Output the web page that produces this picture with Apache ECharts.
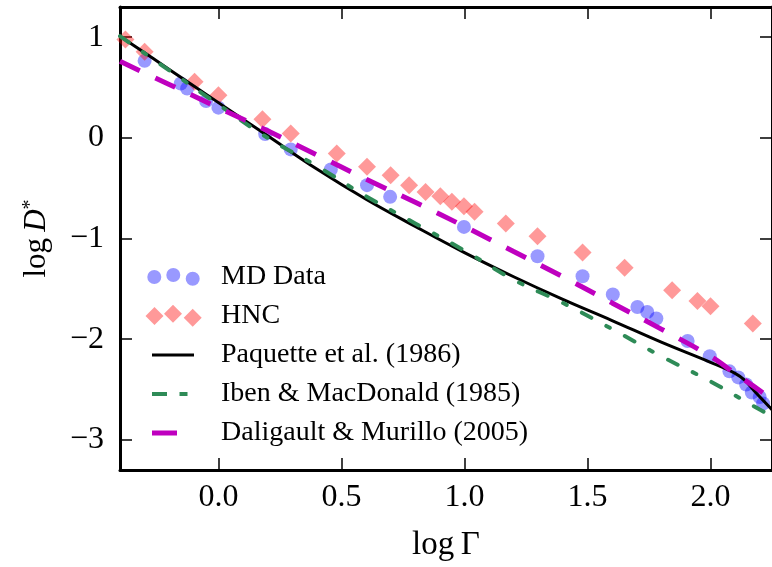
<!DOCTYPE html>
<html>
<head>
<meta charset="utf-8">
<script src="https://cdn.jsdelivr.net/npm/echarts@6/dist/echarts.min.js"></script>
<style>html,body{margin:0;padding:0;background:#fff;}#c{width:772px;height:567px;}</style>
</head>
<body>
<div id="c"></div>
<script>
// ---- data ----
const xTicks = [0.0, 0.5, 1.0, 1.5, 2.0];
const yTicks = [-3, -2, -1, 0, 1];

const mdX = [-0.30, -0.153, -0.127, -0.05, 0.0, 0.19, 0.294, 0.457, 0.604, 0.698, 0.998, 1.297, 1.48, 1.603, 1.703, 1.743, 1.78, 1.907, 1.997, 2.077, 2.113, 2.145, 2.168, 2.20, 2.214];
const mdY = [0.765, 0.54, 0.49, 0.365, 0.30, 0.037, -0.115, -0.314, -0.47, -0.586, -0.885, -1.176, -1.375, -1.557, -1.68, -1.73, -1.795, -2.018, -2.17, -2.32, -2.38, -2.45, -2.53, -2.575, -2.64];

const hncX = [-0.378, -0.30, -0.097, 0.0, 0.179, 0.294, 0.481, 0.604, 0.70, 0.775, 0.842, 0.902, 0.949, 0.998, 1.041, 1.168, 1.297, 1.48, 1.651, 1.844, 1.947, 2.0, 2.172];
const hncY = [0.978, 0.855, 0.557, 0.424, 0.186, 0.044, -0.155, -0.288, -0.371, -0.47, -0.537, -0.58, -0.636, -0.679, -0.735, -0.851, -0.977, -1.14, -1.29, -1.514, -1.62, -1.673, -1.845];

const paqX = [-0.4, -0.2, 0.0, 0.2, 0.4, 0.6, 0.8, 1.0, 1.2, 1.4, 1.6, 1.8, 2.0, 2.1, 2.14, 2.18, 2.25];
const paqY = [1.01, 0.68, 0.35, 0.02, -0.31, -0.61, -0.88, -1.14, -1.38, -1.605, -1.815, -2.03, -2.23, -2.34, -2.41, -2.52, -2.70];

const ibenX = [-0.4, -0.2, 0.0, 0.2, 0.4, 0.6, 0.8, 1.0, 1.2, 1.4, 1.6, 1.8, 2.0, 2.2, 2.25];
const ibenY = [1.01, 0.67, 0.33, 0.0, -0.28, -0.58, -0.85, -1.12, -1.41, -1.64, -1.90, -2.17, -2.42, -2.70, -2.76];

const daliX = [-0.4, -0.2, 0.0, 0.2, 0.4, 0.6, 0.8, 1.0, 1.2, 1.4, 1.6, 1.8, 2.0, 2.1, 2.2, 2.25];
const daliY = [0.76, 0.53, 0.30, 0.07, -0.17, -0.41, -0.64, -0.88, -1.13, -1.38, -1.64, -1.90, -2.17, -2.34, -2.51, -2.60];

const names = ['MD Data', 'HNC', 'Paquette et al. (1986)', 'Iben & MacDonald (1985)', 'Daligault & Murillo (2005)'];

// ---- helpers ----
const zip = (xs, ys) => xs.map((x, i) => [x, ys[i]]);
const FONT = '"Liberation Serif", "DejaVu Serif", serif';
const corners = 'M0,0h0.05v0.05h-0.05z M70.95,23.95h0.05v0.05h-0.05z ';
function circ(cx, cy, r) {
  return 'M' + (cx - r) + ',' + cy + ' a' + r + ',' + r + ' 0 1,0 ' + (2 * r) + ',0 a' + r + ',' + r + ' 0 1,0 ' + (-2 * r) + ',0 Z ';
}
function diam(cx, cy, h) {
  return 'M' + cx + ',' + (cy - h) + ' L' + (cx + h) + ',' + cy + ' L' + cx + ',' + (cy + h) + ' L' + (cx - h) + ',' + cy + ' Z ';
}
function rect(x, y, w, h) {
  return 'M' + x + ',' + y + ' h' + w + ' v' + h + ' h' + (-w) + ' Z ';
}
const iconMD = 'path://' + corners + circ(9.3, 12, 7) + circ(28.3, 10, 7) + circ(47.7, 13.7, 7);
const iconHNC = 'path://' + corners + diam(9.5, 12, 9) + diam(28, 9.7, 9) + diam(47.7, 13.7, 9);
const iconPaq = 'path://' + corners + rect(7, 10.5, 42, 3);
const iconIben = 'path://' + corners + rect(7, 10, 15, 4) + rect(34.5, 10, 8, 4);
const iconDali = 'path://' + corners + rect(7, 9.5, 25, 5);

const minusFmt = v => (v < 0 ? '\u2212' + Math.abs(v) : String(v));

const chart = echarts.init(document.getElementById('c'), null, { renderer: 'canvas' });
const axisLineStyle = { color: '#000', width: 3 };
const tickStyle = { color: '#000', width: 1.5 };

chart.setOption({
  backgroundColor: '#fff',
  animation: false,
  grid: { left: 120, top: 7, bottom: 96, right: -9, containLabel: false },
  xAxis: [{
    type: 'value', min: -0.4, max: 2.25, position: 'bottom',
    splitLine: { show: false },
    axisLine: { show: true, onZero: false, lineStyle: axisLineStyle },
    axisTick: { show: true, inside: true, length: 12, lineStyle: tickStyle, customValues: xTicks },
    axisLabel: { show: true, customValues: xTicks, formatter: v => v.toFixed(1), fontFamily: FONT, fontSize: 32, color: '#000', margin: 12 },
    name: 'log\u2009\u0393', nameLocation: 'middle', nameGap: 59,
    nameTextStyle: { fontFamily: FONT, fontSize: 33, color: '#000' }
  }, {
    type: 'value', min: -0.4, max: 2.25, position: 'top',
    splitLine: { show: false },
    axisLine: { show: true, onZero: false, lineStyle: axisLineStyle },
    axisTick: { show: true, inside: true, length: 12, lineStyle: tickStyle, customValues: xTicks },
    axisLabel: { show: false }
  }],
  yAxis: [{
    type: 'value', min: -3.3, max: 1.3, position: 'left',
    splitLine: { show: false },
    axisLine: { show: true, onZero: false, lineStyle: axisLineStyle },
    axisTick: { show: true, inside: true, length: 12, lineStyle: tickStyle, customValues: yTicks },
    axisLabel: { show: true, customValues: yTicks, formatter: minusFmt, fontFamily: FONT, fontSize: 32, color: '#000', margin: 16 },
    name: '{a|log\u2009}{b|D}{c|*}', nameLocation: 'middle', nameGap: 68, nameRotate: 90,
    nameTextStyle: {
      fontFamily: FONT, fontSize: 31, color: '#000',
      rich: {
        a: { fontFamily: FONT, fontSize: 31, color: '#000' },
        b: { fontFamily: FONT, fontSize: 31, fontStyle: 'italic', color: '#000' },
        c: { fontFamily: FONT, fontSize: 20, color: '#000', verticalAlign: 'top', lineHeight: 20 }
      }
    }
  }, {
    type: 'value', min: -3.3, max: 1.3, position: 'right',
    splitLine: { show: false },
    axisLine: { show: true, onZero: false, lineStyle: axisLineStyle },
    axisTick: { show: true, inside: true, length: 12, lineStyle: tickStyle, customValues: yTicks },
    axisLabel: { show: false }
  }],
  legend: {
    orient: 'vertical', left: 145, top: 263, padding: 0,
    itemWidth: 71, itemHeight: 24, itemGap: 11.0,
    symbolKeepAspect: true,
    itemStyle: { borderWidth: 0 },
    textStyle: { fontFamily: FONT, fontSize: 28, color: '#000' },
    data: [
      { name: names[0], icon: iconMD, itemStyle: { color: 'rgba(0,0,255,0.5)', borderWidth: 0 } },
      { name: names[1], icon: iconHNC, itemStyle: { color: 'rgba(255,0,0,0.5)', borderWidth: 0 } },
      { name: names[2], icon: iconPaq, itemStyle: { color: '#000', borderWidth: 0 } },
      { name: names[3], icon: iconIben, itemStyle: { color: '#2e8b57', borderWidth: 0 } },
      { name: names[4], icon: iconDali, itemStyle: { color: '#bf00bf', borderWidth: 0 } }
    ]
  },
  series: [
    {
      name: names[0], type: 'scatter', xAxisIndex: 0, yAxisIndex: 0,
      symbol: 'circle', symbolSize: 14, clip: false,
      itemStyle: { color: 'rgba(0,0,255,0.5)', borderWidth: 0 },
      data: zip(mdX, mdY)
    },
    {
      name: names[1], type: 'scatter', xAxisIndex: 0, yAxisIndex: 0,
      symbol: 'diamond', symbolSize: 18, clip: false,
      itemStyle: { color: 'rgba(255,0,0,0.5)', borderWidth: 0 },
      data: zip(hncX, hncY)
    },
    {
      name: names[2], type: 'line', xAxisIndex: 0, yAxisIndex: 0,
      showSymbol: false, symbol: 'none', smooth: 0.4, color: '#000',
      lineStyle: { color: '#000', width: 3 },
      data: zip(paqX, paqY)
    },
    {
      name: names[3], type: 'line', xAxisIndex: 0, yAxisIndex: 0,
      showSymbol: false, symbol: 'none', smooth: 0.4, color: '#2e8b57',
      lineStyle: { color: '#2e8b57', width: 4, type: [11, 17, 4, 17], cap: 'round' },
      data: zip(ibenX, ibenY)
    },
    {
      name: names[4], type: 'line', xAxisIndex: 0, yAxisIndex: 0,
      showSymbol: false, symbol: 'none', smooth: 0.4, color: '#bf00bf',
      lineStyle: { color: '#bf00bf', width: 5, type: [22, 17], cap: 'butt' },
      data: zip(daliX, daliY)
    }
  ]
});
</script>
</body>
</html>
